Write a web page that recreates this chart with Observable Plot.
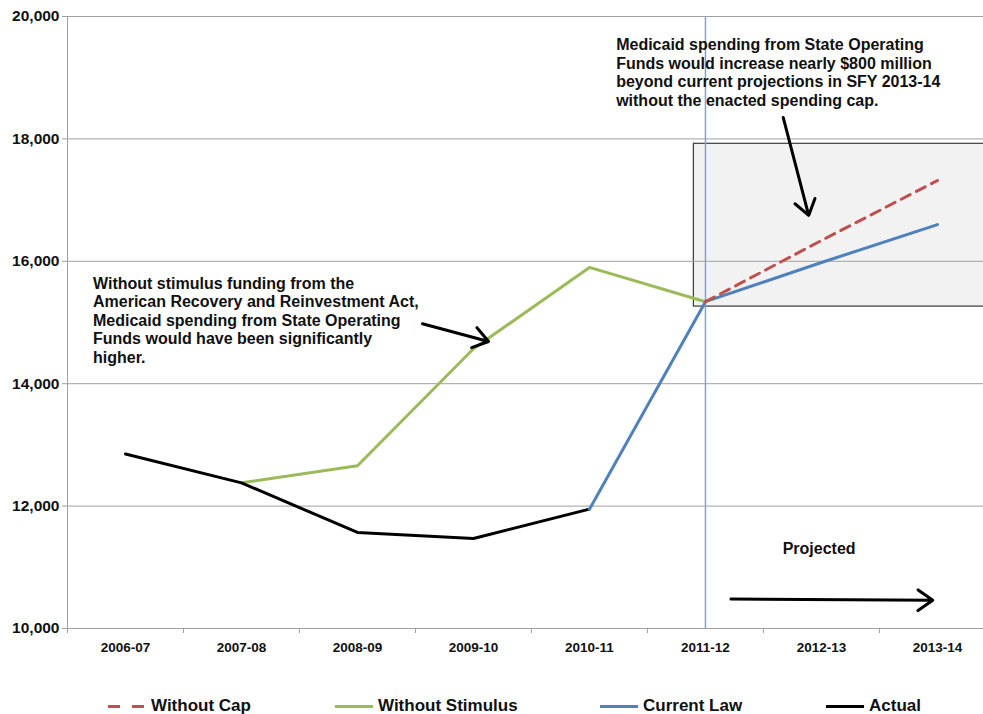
<!DOCTYPE html>
<html>
<head>
<meta charset="utf-8">
<script src="https://cdn.jsdelivr.net/npm/d3@7"></script>
<script src="https://cdn.jsdelivr.net/npm/@observablehq/plot@0.6"></script>
<style>
  body { margin: 0; background: #fff; font-family: "Liberation Sans", Arial, sans-serif; }
  #chart { width: 983px; }
  .legend { position: relative; width: 983px; height: 34px; font-family: "Liberation Sans Narrow", "Liberation Sans", Arial, sans-serif; font-weight: bold; font-size: 17px; color: #111; }
  .item { position: absolute; top: 17px; display: flex; align-items: center; height: 18px; }
  .sw { width: 38px; height: 3px; margin-right: 5px; }
</style>
</head>
<body>
<div id="chart"></div>
<script>
const categories = ["2006-07","2007-08","2008-09","2009-10","2010-11","2011-12","2012-13","2013-14"];
const actual          = [12850, 12380, 11570, 11470, 11950, null, null, null];
const withoutStimulus = [null, 12380, 12660, 14570, 15900, 15340, null, null];
const currentLaw      = [null, null, null, null, 11950, 15340, 15980, 16600];
const withoutCap      = [null, null, null, null, null, 15340, 16340, 17320];
const yTicks = [10000, 12000, 14000, 16000, 18000, 20000];

const seriesNames  = ["Without Cap", "Without Stimulus", "Current Law", "Actual"];
const seriesColors = ["#C0504D", "#9BBB59", "#4F81BD", "#000000"];

// annotation anchors (category index, value)
const projectionStart = 5;
const capBox = {x1: 4.9, x2: 7.6, y1: 15260, y2: 17920};
const noteCap = "Medicaid spending from State Operating\nFunds would increase nearly $800 million\nbeyond current projections in SFY 2013-14\nwithout the enacted spending cap.";
const noteStim = "Without stimulus funding from the\nAmerican Recovery and Reinvestment Act,\nMedicaid spending from State Operating\nFunds would have been significantly\nhigher.";
const notes = [
  {x: 4.23, y: 19660, text: noteCap},
  {x: -0.28, y: 15760, text: noteStim}
];
const projectedLabel = {x: 5.98, y: 11300, text: "Projected"};
const arrows = [
  {x1: 5.67, y1: 18350, x2: 5.89, y2: 16750},
  {x1: 2.56, y1: 14980, x2: 3.13, y2: 14690},
  {x1: 5.22, y1: 10480, x2: 6.96, y2: 10460}
];

const toRows = (vals) => vals.map((v, i) => ({i, v})).filter(d => d.v != null);

const W = 983, H = 680;
const chart = Plot.plot({
  width: W, height: H,
  marginLeft: 67, marginRight: 0, marginTop: 16, marginBottom: 52,
  style: {fontFamily: "'Liberation Sans', Arial, sans-serif", background: "#fff"},
  x: {domain: [-0.5, 7.397], axis: null},
  y: {domain: [10000, 20000], axis: null},
  marks: [
    Plot.rect([capBox], {x1: "x1", x2: "x2", y1: "y1", y2: "y2", fill: "#f2f2f2", stroke: "#3a3a3a", strokeWidth: 1.2, clip: true}),
    Plot.ruleY(yTicks, {stroke: "#a0a0a0", strokeWidth: 1}),
    Plot.ruleX([-0.5], {stroke: "#a0a0a0", strokeWidth: 1}),
    Plot.axisY({ticks: yTicks, tickSize: 5, tickPadding: 3, stroke: "#a0a0a0", tickFormat: d3.format(","), fontSize: 15.5, fontWeight: "bold", fill: "#111", label: null}),
    Plot.axisX({ticks: d3.range(-0.5, 8, 1), tickSize: 5, tickFormat: () => "", stroke: "#a0a0a0", label: null}),
    Plot.axisX({ticks: d3.range(0, 8), tickSize: 0, tickPadding: 14, tickFormat: i => categories[i], fontSize: 13.5, fontWeight: "bold", fill: "#111", fontFamily: "'Liberation Sans Narrow', 'Liberation Sans', Arial, sans-serif", label: null}),
    Plot.ruleX([projectionStart], {stroke: "#7ea4d4", strokeWidth: 1.5}),
    Plot.line(toRows(withoutStimulus), {x: "i", y: "v", stroke: seriesColors[1], strokeWidth: 3}),
    Plot.line(toRows(actual), {x: "i", y: "v", stroke: seriesColors[3], strokeWidth: 3}),
    Plot.line(toRows(currentLaw), {x: "i", y: "v", stroke: seriesColors[2], strokeWidth: 3}),
    Plot.line(toRows(withoutCap), {x: "i", y: "v", stroke: seriesColors[0], strokeWidth: 3, strokeDasharray: "10,7"}),
    Plot.arrow(arrows, {x1: "x1", y1: "y1", x2: "x2", y2: "y2", stroke: "#000", strokeWidth: 3, headLength: 9, headAngle: 70}),
    Plot.text(notes, {x: "x", y: "y", text: "text", textAnchor: "start", lineAnchor: "top", lineHeight: 1.15, fontSize: 16, fontWeight: "bold", fill: "#111"}),
    Plot.text([projectedLabel], {x: "x", y: "y", text: "text", textAnchor: "middle", fontSize: 16, fontWeight: "bold", fill: "#111"})
  ]
});
document.getElementById("chart").append(chart);

const legend = document.createElement("div");
legend.className = "legend";
const lefts = [108, 335, 600, 826];
seriesNames.forEach((name, k) => {
  const item = document.createElement("div");
  item.className = "item";
  item.style.left = lefts[k] + "px";
  const sw = document.createElement("span");
  sw.className = "sw";
  if (k === 0) {
    sw.style.background = `linear-gradient(to right, ${seriesColors[k]} 0 12px, transparent 12px 24px, ${seriesColors[k]} 24px 36px, transparent 36px)`;
  } else {
    sw.style.background = seriesColors[k];
  }
  item.append(sw, document.createTextNode(name));
  legend.append(item);
});
document.body.append(legend);
</script>
</body>
</html>
